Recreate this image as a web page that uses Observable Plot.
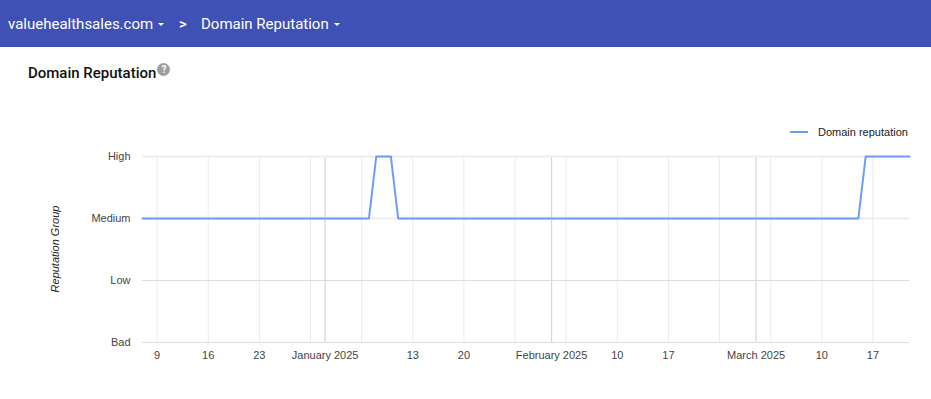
<!DOCTYPE html>
<html>
<head>
<meta charset="utf-8">
<script src="https://cdn.jsdelivr.net/npm/d3@7"></script>
<script src="https://cdn.jsdelivr.net/npm/@observablehq/plot@0.6"></script>
<style>
  html, body { margin: 0; padding: 0; background: #fff; }
  body { width: 931px; height: 399px; position: relative; overflow: hidden; font-family: Roboto, "Liberation Sans", Arial, sans-serif; }
  #header { position: absolute; left: 0; top: 0; width: 931px; height: 47px; background: #3F51B5; color: #fff; font-family: Roboto, sans-serif; font-size: 15px; }
  #header span { position: absolute; top: 14px; line-height: 20px; white-space: nowrap; }
  .caret { display: inline-block; width: 0; height: 0; border-left: 3px solid transparent; border-right: 3px solid transparent; border-top: 3px solid #fff; vertical-align: middle; margin-left: 5px; margin-top: -2px; }
  #title { position: absolute; left: 28px; top: 63px; font-family: Roboto, sans-serif; font-weight: 500; font-size: 15px; color: #111; line-height: 20px; white-space: nowrap; }
  #help { display: inline-block; width: 13px; height: 13px; border-radius: 50%; background: #9e9e9e; color: #fff; font-size: 10px; font-weight: 700; line-height: 13px; text-align: center; vertical-align: top; margin-top: 0px; margin-left: 1px; }
  #chart { position: absolute; left: 0; top: 110px; }
  #legend { position: absolute; left: 790px; top: 124px; font-family: "Liberation Sans", Arial, sans-serif; font-size: 11px; color: #222; white-space: nowrap; line-height: 16px; }
  #legend i { display: inline-block; width: 18px; height: 2px; background: #6b9cf7; vertical-align: middle; margin-right: 10px; margin-top: -2px; }
  #ylab { position: absolute; left: 55px; top: 249px; transform: translate(-50%, -50%) rotate(-90deg); font-family: "Liberation Sans", Arial, sans-serif; font-style: italic; font-size: 11px; color: #222; white-space: nowrap; }
</style>
</head>
<body>
<div id="header">
  <span style="left:8px">valuehealthsales.com<i class="caret"></i></span>
  <span style="left:179px; font-weight:500">&gt;</span>
  <span style="left:201px">Domain Reputation<i class="caret"></i></span>
</div>
<div id="title">Domain Reputation<span id="help">?</span></div>
<div id="legend"><i></i>Domain reputation</div>
<div id="ylab">Reputation Group</div>
<div id="chart"></div>
<script>
// Reputation levels (bottom to top)
const levels = ["Bad", "Low", "Medium", "High"];

// Series: dates where the value changes (line is straight between them)
const seriesDates = ["2024-12-07", "2025-01-07", "2025-01-08", "2025-01-10", "2025-01-11", "2025-03-15", "2025-03-16", "2025-03-22"];
const seriesValues = ["Medium", "Medium", "High", "High", "Medium", "Medium", "High", "High"];

// X ticks (weekly Mondays + month starts) and their labels ("" = no label)
const tickDates = ["2024-12-09", "2024-12-16", "2024-12-23", "2024-12-30", "2025-01-01", "2025-01-06", "2025-01-13", "2025-01-20", "2025-01-27", "2025-02-01", "2025-02-03", "2025-02-10", "2025-02-17", "2025-02-24", "2025-03-01", "2025-03-03", "2025-03-10", "2025-03-17"];
const tickLabels = ["9", "16", "23", "", "January 2025", "", "13", "20", "", "February 2025", "", "10", "17", "", "March 2025", "", "10", "17"];
const monthStarts = ["2025-01-01", "2025-02-01", "2025-03-01"];
const xDomain = ["2024-12-07", "2025-03-22"];

const parse = d3.utcParse("%Y-%m-%d");
const data = seriesDates.map((d, i) => ({date: parse(d), level: levels.indexOf(seriesValues[i])}));
const ticks = tickDates.map((d, i) => ({date: parse(d), label: tickLabels[i], major: monthStarts.includes(d)}));
const labelOf = new Map(ticks.map(t => [+t.date, t.label]));

const chart = Plot.plot({
  width: 931,
  height: 260,
  marginLeft: 142,
  marginRight: 22,
  marginTop: 46,
  marginBottom: 28,
  style: {fontFamily: "'Liberation Sans', Arial, sans-serif", fontSize: "11px", color: "#444", background: "transparent"},
  x: {type: "utc", domain: xDomain.map(parse), label: null},
  y: {domain: [0, levels.length - 1], label: null},
  marks: [
    Plot.ruleX(ticks.filter(t => !t.major), {x: "date", stroke: "#ebebeb", strokeWidth: 1}),
    Plot.ruleX(ticks.filter(t => t.major), {x: "date", stroke: "#d6d6d6", strokeWidth: 1.2}),
    Plot.ruleY(levels.map((l, i) => i), {y: d => d, stroke: d => d >= 2 ? "#ededed" : "#dcdcdc", strokeWidth: d => d >= 2 ? 2 : 1}),
    Plot.axisY(levels.map((l, i) => i), {tickSize: 0, tickPadding: 12, tickFormat: i => levels[i], fill: "#444", label: null, fontSize: 11}),
    Plot.axisX(ticks.map(t => t.date), {tickSize: 0, tickPadding: 9, tickFormat: d => labelOf.get(+d), fill: "#444", label: null, fontSize: 11}),
    Plot.line(data, {x: "date", y: "level", stroke: "#6b9cf7", strokeWidth: 2})
  ]
});
document.getElementById("chart").appendChild(chart);
</script>
</body>
</html>
